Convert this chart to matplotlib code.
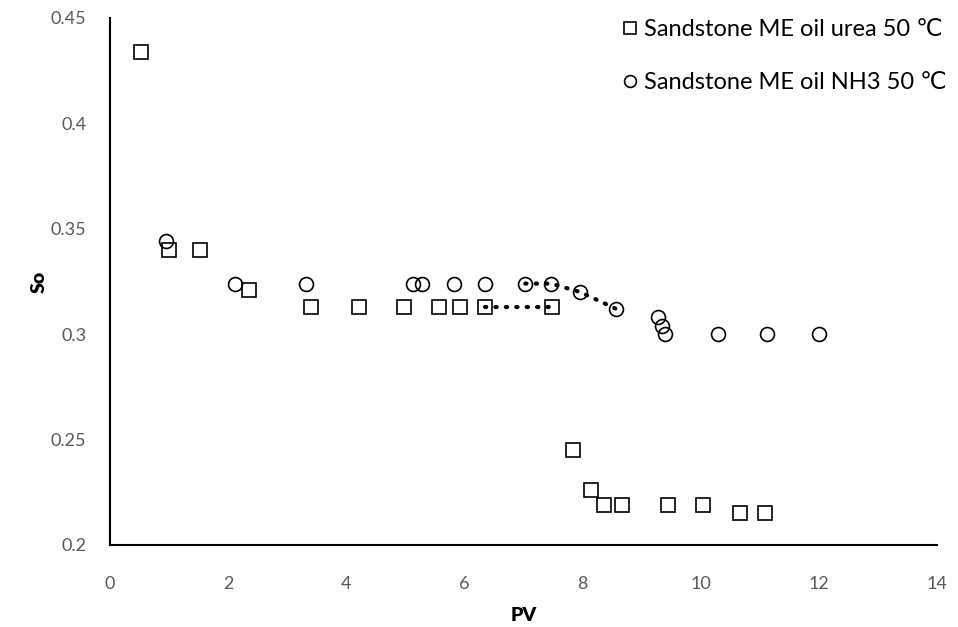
import matplotlib
matplotlib.use("Agg")
import matplotlib.pyplot as plt

# urea series
pv_urea = [0.52, 1.00, 1.52, 2.36, 3.41, 4.21, 4.98, 5.57, 5.93, 6.35, 7.48,
           7.84, 8.15, 8.36, 8.66, 9.44, 10.04, 10.67, 11.09]
so_urea = [0.434, 0.340, 0.340, 0.321, 0.313, 0.313, 0.313, 0.313, 0.313, 0.313, 0.313,
           0.245, 0.226, 0.219, 0.219, 0.219, 0.219, 0.215, 0.215]

# NH3 series
pv_nh3 = [0.95, 2.11, 3.31, 5.13, 5.29, 5.83, 6.35, 7.03, 7.47, 7.96, 8.57,
          9.28, 9.35, 9.40, 10.30, 11.13, 12.01]
so_nh3 = [0.344, 0.324, 0.324, 0.324, 0.324, 0.324, 0.324, 0.324, 0.324, 0.320, 0.312,
          0.308, 0.304, 0.300, 0.300, 0.300, 0.300]

# dotted segments
seg_urea_x = [6.35, 7.48]
seg_urea_y = [0.313, 0.313]
seg_nh3_x = [7.03, 7.47, 7.96, 8.57]
seg_nh3_y = [0.324, 0.324, 0.320, 0.312]

lbl_urea = "Sandstone ME oil urea 50 \u2103"
lbl_nh3 = "Sandstone ME oil NH3 50 \u2103"

plt.rcParams['font.family'] = ['Lato', 'DejaVu Sans']

fig = plt.figure(figsize=(9.58, 6.27), dpi=100)
ax = fig.add_axes([0.1148, 0.1308, 0.8633, 0.8405])

ax.plot(pv_urea, so_urea, ls='none', marker='s', ms=10, mfc='white', mec='black',
        mew=1.2, label=lbl_urea)
ax.plot(pv_nh3, so_nh3, ls='none', marker='o', ms=10, mfc='none', mec='black',
        mew=1.2, label=lbl_nh3)

ax.plot(seg_urea_x, seg_urea_y, color='black', lw=3, ls=(0, (0.3, 2.2)),
        dash_capstyle='round')
ax.plot(seg_nh3_x, seg_nh3_y, color='black', lw=3, ls=(0, (0.3, 2.2)),
        dash_capstyle='round')

ax.set_xlim(0, 14)
ax.set_ylim(0.2, 0.45)
ax.set_xticks(range(0, 15, 2))
ax.set_yticks([0.2, 0.25, 0.3, 0.35, 0.4, 0.45])
ax.set_yticklabels(['0.2', '0.25', '0.3', '0.35', '0.4', '0.45'])
ax.tick_params(length=0, labelsize=13, colors='#595959')
ax.tick_params(axis='x', pad=22)
ax.tick_params(axis='y', pad=17)

for s in ['top', 'right']:
    ax.spines[s].set_visible(False)
for s in ['left', 'bottom']:
    ax.spines[s].set_linewidth(1.5)
    ax.spines[s].set_color('black')

ax.set_xlabel('PV', fontsize=14, fontweight='heavy', labelpad=11)
ax.set_ylabel('So', fontsize=14, fontweight='heavy', labelpad=2)

ax.legend(loc='upper right', bbox_to_anchor=(1.037, 1.038), frameon=False, fontsize=17,
          handletextpad=0.1, labelspacing=1.36, markerscale=0.85, handlelength=1.0)

fig.savefig('out.png', dpi=100)
